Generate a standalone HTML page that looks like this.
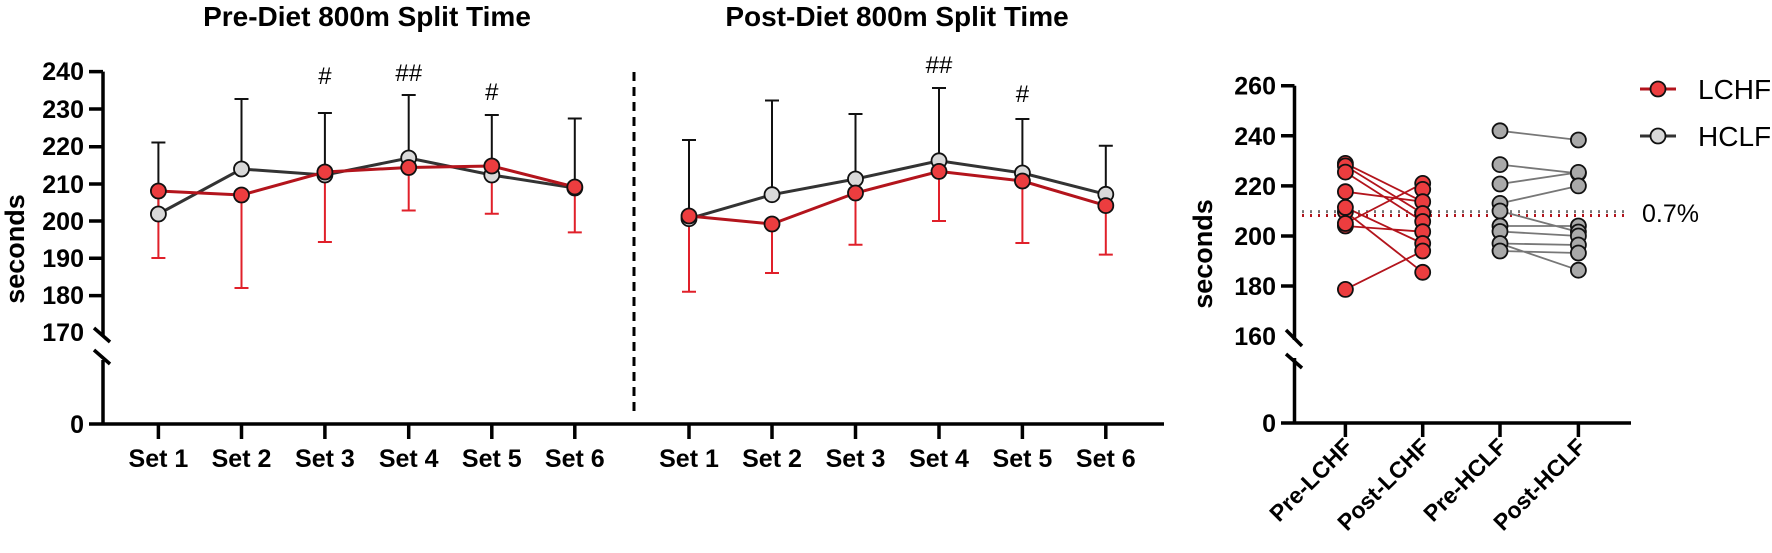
<!DOCTYPE html>
<html><head><meta charset="utf-8"><style>
html,body{margin:0;padding:0;background:#fff;}
svg{display:block;}
text{font-family:"Liberation Sans",Arial,sans-serif;}
.b{font-weight:bold;}
</style></head><body>
<svg width="1772" height="553" viewBox="0 0 1772 553" xmlns="http://www.w3.org/2000/svg">
<text x="367" y="26" class="b" font-size="28" text-anchor="middle">Pre-Diet 800m Split Time</text>
<text x="897" y="26" class="b" font-size="28" text-anchor="middle">Post-Diet 800m Split Time</text>

<g stroke="#000" stroke-width="3.5" fill="none">
<path d="M103 71.6 V336 M103 360 V424 M89 424 H1164"/>
<path d="M89 71.6 H103 M89 109 H103 M89 146.7 H103 M89 184 H103 M89 221 H103 M89 258.3 H103 M89 295.6 H103"/>
<path d="M94 328 L110 342 M94 350 L110 364"/>
<path d="M158.4 424 V439 M241.5 424 V439 M324.9 424 V439 M408.7 424 V439 M491.8 424 V439 M574.8 424 V439"/>
<path d="M689 424 V439 M772 424 V439 M855.5 424 V439 M939 424 V439 M1022.4 424 V439 M1105.8 424 V439"/>
</g>
<path d="M634 72 V414" stroke="#000" stroke-width="3" stroke-dasharray="9,6"/>
<g class="b" font-size="25" text-anchor="end">
<text x="84" y="80">240</text><text x="84" y="118">230</text><text x="84" y="155">220</text>
<text x="84" y="193">210</text><text x="84" y="230">200</text><text x="84" y="267">190</text>
<text x="84" y="304">180</text><text x="84" y="341">170</text><text x="84" y="433">0</text>
</g>
<text transform="translate(24,249) rotate(-90)" class="b" font-size="27" text-anchor="middle">seconds</text>
<g class="b" font-size="25" text-anchor="middle">
<text x="158.4" y="467">Set 1</text><text x="241.5" y="467">Set 2</text><text x="324.9" y="467">Set 3</text>
<text x="408.7" y="467">Set 4</text><text x="491.8" y="467">Set 5</text><text x="574.8" y="467">Set 6</text>
<text x="689" y="467">Set 1</text><text x="772" y="467">Set 2</text><text x="855.5" y="467">Set 3</text>
<text x="939" y="467">Set 4</text><text x="1022.4" y="467">Set 5</text><text x="1105.8" y="467">Set 6</text>
</g>
<g font-size="24" text-anchor="middle">
<text x="324.9" y="84">#</text><text x="408.7" y="81">##</text><text x="491.8" y="100">#</text>
<text x="939" y="73">##</text><text x="1022.4" y="102">#</text>
</g>

<g stroke="#111" stroke-width="2">
<path d="M158.4 214 V142.5 M151.4 142.5 H165.4 M241.5 169 V99 M234.5 99 H248.5 M324.9 175 V113 M317.9 113 H331.9 M408.7 158 V95 M401.7 95 H415.7 M491.8 175 V115 M484.8 115 H498.8 M574.8 188 V118.5 M567.8 118.5 H581.8"/>
<path d="M689 218.7 V140 M682 140 H696 M772 194.7 V100.5 M765 100.5 H779 M855.5 179 V114 M848.5 114 H862.5 M939 160.8 V88 M932 88 H946 M1022.4 173 V119 M1015.4 119 H1029.4 M1105.8 194.3 V145.7 M1098.8 145.7 H1112.8"/>
</g>
<g stroke="#e0202a" stroke-width="2">
<path d="M158.4 191 V258 M151.4 258 H165.4 M241.5 195 V288 M234.5 288 H248.5 M324.9 172 V242 M317.9 242 H331.9 M408.7 167.5 V210.5 M401.7 210.5 H415.7 M491.8 166 V213.7 M484.8 213.7 H498.8 M574.8 187 V232.4 M567.8 232.4 H581.8"/>
<path d="M689 216 V291.7 M682 291.7 H696 M772 224 V273 M765 273 H779 M855.5 193 V244.8 M848.5 244.8 H862.5 M939 171.4 V221 M932 221 H946 M1022.4 181 V243 M1015.4 243 H1029.4 M1105.8 205.6 V254.6 M1098.8 254.6 H1112.8"/>
</g>
<polyline points="158.4,214 241.5,169 324.9,175 408.7,158 491.8,175 574.8,188" fill="none" stroke="#333" stroke-width="3"/>
<polyline points="689,218.7 772,194.7 855.5,179 939,160.8 1022.4,173 1105.8,194.3" fill="none" stroke="#333" stroke-width="3"/>
<g fill="#d9d9d9" stroke="#111" stroke-width="1.8">
<circle cx="158.4" cy="214" r="7.5"/><circle cx="241.5" cy="169" r="7.5"/><circle cx="324.9" cy="175" r="7.5"/><circle cx="408.7" cy="158" r="7.5"/><circle cx="491.8" cy="175" r="7.5"/><circle cx="574.8" cy="188" r="7.5"/>
<circle cx="689" cy="218.7" r="7.5"/><circle cx="772" cy="194.7" r="7.5"/><circle cx="855.5" cy="179" r="7.5"/><circle cx="939" cy="160.8" r="7.5"/><circle cx="1022.4" cy="173" r="7.5"/><circle cx="1105.8" cy="194.3" r="7.5"/>
</g>
<polyline points="158.4,191 241.5,195 324.9,172 408.7,167.5 491.8,166 574.8,187" fill="none" stroke="#b3141c" stroke-width="3"/>
<polyline points="689,216 772,224 855.5,193 939,171.4 1022.4,181 1105.8,205.6" fill="none" stroke="#b3141c" stroke-width="3"/>
<g fill="#ec3d3f" stroke="#111" stroke-width="1.8">
<circle cx="158.4" cy="191" r="7.5"/><circle cx="241.5" cy="195" r="7.5"/><circle cx="324.9" cy="172" r="7.5"/><circle cx="408.7" cy="167.5" r="7.5"/><circle cx="491.8" cy="166" r="7.5"/><circle cx="574.8" cy="187" r="7.5"/>
<circle cx="689" cy="216" r="7.5"/><circle cx="772" cy="224" r="7.5"/><circle cx="855.5" cy="193" r="7.5"/><circle cx="939" cy="171.4" r="7.5"/><circle cx="1022.4" cy="181" r="7.5"/><circle cx="1105.8" cy="205.6" r="7.5"/>
</g>

<g stroke="#000" stroke-width="3.5" fill="none">
<path d="M1294.5 85.7 V340 M1294.5 358 V423 M1281 423 H1631"/>
<path d="M1281 85.7 H1294.5 M1281 135.8 H1294.5 M1281 185.9 H1294.5 M1281 236 H1294.5 M1281 286 H1294.5"/>
<path d="M1286 330 L1302 346 M1286 354 L1302 368"/>
<path d="M1345.4 423 V437 M1422.7 423 V437 M1500 423 V437 M1578.4 423 V437"/>
</g>
<g class="b" font-size="25" text-anchor="end">
<text x="1276" y="94.7">260</text><text x="1276" y="144.8">240</text><text x="1276" y="194.9">220</text>
<text x="1276" y="245">200</text><text x="1276" y="295">180</text><text x="1276" y="345">160</text><text x="1276" y="432">0</text>
</g>
<text transform="translate(1212,254) rotate(-90)" class="b" font-size="27" text-anchor="middle">seconds</text>
<g class="b" font-size="23" text-anchor="end">
<text transform="translate(1354,448) rotate(-45)">Pre-LCHF</text>
<text transform="translate(1431,448) rotate(-45)">Post-LCHF</text>
<text transform="translate(1508,448) rotate(-45)">Pre-HCLF</text>
<text transform="translate(1587,448) rotate(-45)">Post-HCLF</text>
</g>
<path d="M1302 211.6 H1627" stroke="#777" stroke-width="3" stroke-dasharray="2,6"/>
<path d="M1302 215.5 H1627" stroke="#b3141c" stroke-width="3" stroke-dasharray="2,6"/>
<text x="1642" y="222" font-size="25">0.7%</text>
<g stroke="#b3141c" stroke-width="1.8">
<path d="M1345.4 163.4 L1422.7 201.7 M1345.4 165.9 L1422.7 213.5 M1345.4 172.1 L1422.7 221.5 M1345.4 191.7 L1422.7 201.7 M1345.4 207.4 L1422.7 243.5 M1345.4 211.7 L1422.7 272.3 M1345.4 223.5 L1422.7 183.4 M1345.4 226 L1422.7 231.7 M1345.4 289.4 L1422.7 251"/>
</g>
<g fill="#ec3d3f" stroke="#111" stroke-width="1.8">
<circle cx="1345.4" cy="163.4" r="7.5"/><circle cx="1345.4" cy="165.9" r="7.5"/><circle cx="1345.4" cy="172.1" r="7.5"/><circle cx="1345.4" cy="191.7" r="7.5"/><circle cx="1345.4" cy="211.7" r="7.5"/><circle cx="1345.4" cy="207.4" r="7.5"/><circle cx="1345.4" cy="226" r="7.5"/><circle cx="1345.4" cy="223.5" r="7.5"/><circle cx="1345.4" cy="289.4" r="7.5"/>
<circle cx="1422.7" cy="183.4" r="7.5"/><circle cx="1422.7" cy="189.4" r="7.5"/><circle cx="1422.7" cy="201.7" r="7.5"/><circle cx="1422.7" cy="213.5" r="7.5"/><circle cx="1422.7" cy="221.5" r="7.5"/><circle cx="1422.7" cy="231.7" r="7.5"/><circle cx="1422.7" cy="243.5" r="7.5"/><circle cx="1422.7" cy="251" r="7.5"/><circle cx="1422.7" cy="272.3" r="7.5"/>
</g>
<g stroke="#777" stroke-width="1.8">
<path d="M1500 130.8 L1578.4 140 M1500 164.6 L1578.4 173.4 M1500 184 L1578.4 172.4 M1500 203.4 L1578.4 185.9 M1500 211 L1578.4 232 M1500 226 L1578.4 226 M1500 231.5 L1578.4 236 M1500 243.5 L1578.4 245 M1500 251 L1578.4 253 M1500 243.5 L1578.4 270.2"/>
</g>
<g fill="#a9a9a9" stroke="#111" stroke-width="1.8">
<circle cx="1500" cy="130.8" r="7.5"/><circle cx="1500" cy="164.6" r="7.5"/><circle cx="1500" cy="184" r="7.5"/><circle cx="1500" cy="203.4" r="7.5"/><circle cx="1500" cy="211" r="7.5"/><circle cx="1500" cy="226" r="7.5"/><circle cx="1500" cy="231.5" r="7.5"/><circle cx="1500" cy="243.5" r="7.5"/><circle cx="1500" cy="251" r="7.5"/>
<circle cx="1578.4" cy="140" r="7.5"/><circle cx="1578.4" cy="173.4" r="7.5"/><circle cx="1578.4" cy="172.4" r="7.5"/><circle cx="1578.4" cy="185.9" r="7.5"/><circle cx="1578.4" cy="226" r="7.5"/><circle cx="1578.4" cy="232" r="7.5"/><circle cx="1578.4" cy="236" r="7.5"/><circle cx="1578.4" cy="245" r="7.5"/><circle cx="1578.4" cy="253" r="7.5"/><circle cx="1578.4" cy="270.2" r="7.5"/>
</g>
<path d="M1640 89 H1676" stroke="#b3141c" stroke-width="3"/>
<circle cx="1658" cy="89" r="7.5" fill="#ec3d3f" stroke="#111" stroke-width="1.8"/>
<text x="1698" y="99" font-size="28">LCHF</text>
<path d="M1640 136 H1676" stroke="#333" stroke-width="3"/>
<circle cx="1658" cy="136" r="7.5" fill="#d9d9d9" stroke="#111" stroke-width="1.8"/>
<text x="1698" y="146" font-size="28">HCLF</text>
</svg>
</body></html>
